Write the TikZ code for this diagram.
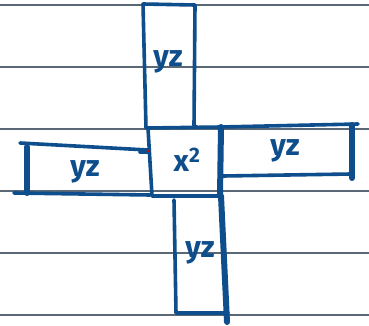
\documentclass[tikz,border=0pt]{standalone}
\usepackage{fontspec}
\setmainfont{Fira Sans}
\definecolor{ink}{RGB}{14,78,140}
\definecolor{rule}{RGB}{90,104,118}
\begin{document}
\begin{tikzpicture}[x=1pt,y=-1pt,
  pen/.style={draw=ink,line width=3.6pt,line cap=round,line join=round},
  thick pen/.style={draw=ink,line width=6pt,line cap=round,line join=round},
  ruled/.style={draw=rule,line width=1.4pt},
  lab/.style={text=ink,font=\fontsize{30}{32}\selectfont\bfseries,inner sep=0pt}]
\useasboundingbox (0,0) rectangle (369,326);
\fill[white] (0,0) rectangle (369,326);
% ruled paper lines
\foreach \yy in {5,67,129,191,253,315} \draw[ruled] (0,\yy) -- (369,\yy);
% top rectangle
\draw[pen] (146,128) -- (143,4) -- (195,5) -- (194,126) -- (197,127);
% centre square
\draw[pen] (148,128) -- (221,127);
\draw[pen] (148,128) -- (152,196) -- (221,196);
\draw[thick pen] (221,127) -- (220,196);
% left rectangle
\draw[pen] (20,143) -- (148,150);
\draw[pen] (140,152) -- (148,152);
\draw[thick pen] (27,147) -- (27,193);
\draw[pen] (14,193) -- (150,195);
% right rectangle
\draw[pen] (221,127) -- (358,124);
\draw[thick pen] (352,125) -- (352,178);
\draw[pen] (223,176) -- (351,174);
% bottom rectangle
\draw[pen] (174,200) -- (176,313) -- (228,313);
\draw[thick pen] (221,196) -- (227,322);
% small red dot
\fill[red!85!black] (148,151) circle (1.3);
% labels
\node[lab] (t) at (168,62) {yz};
\node[lab] (l) at (85,172) {yz};
\node[lab] (c) at (187,160) {x\textsuperscript{2}};
\node[lab] (r) at (285,151) {yz};
\node[lab] (b) at (200,253) {yz};
\end{tikzpicture}
\end{document}
